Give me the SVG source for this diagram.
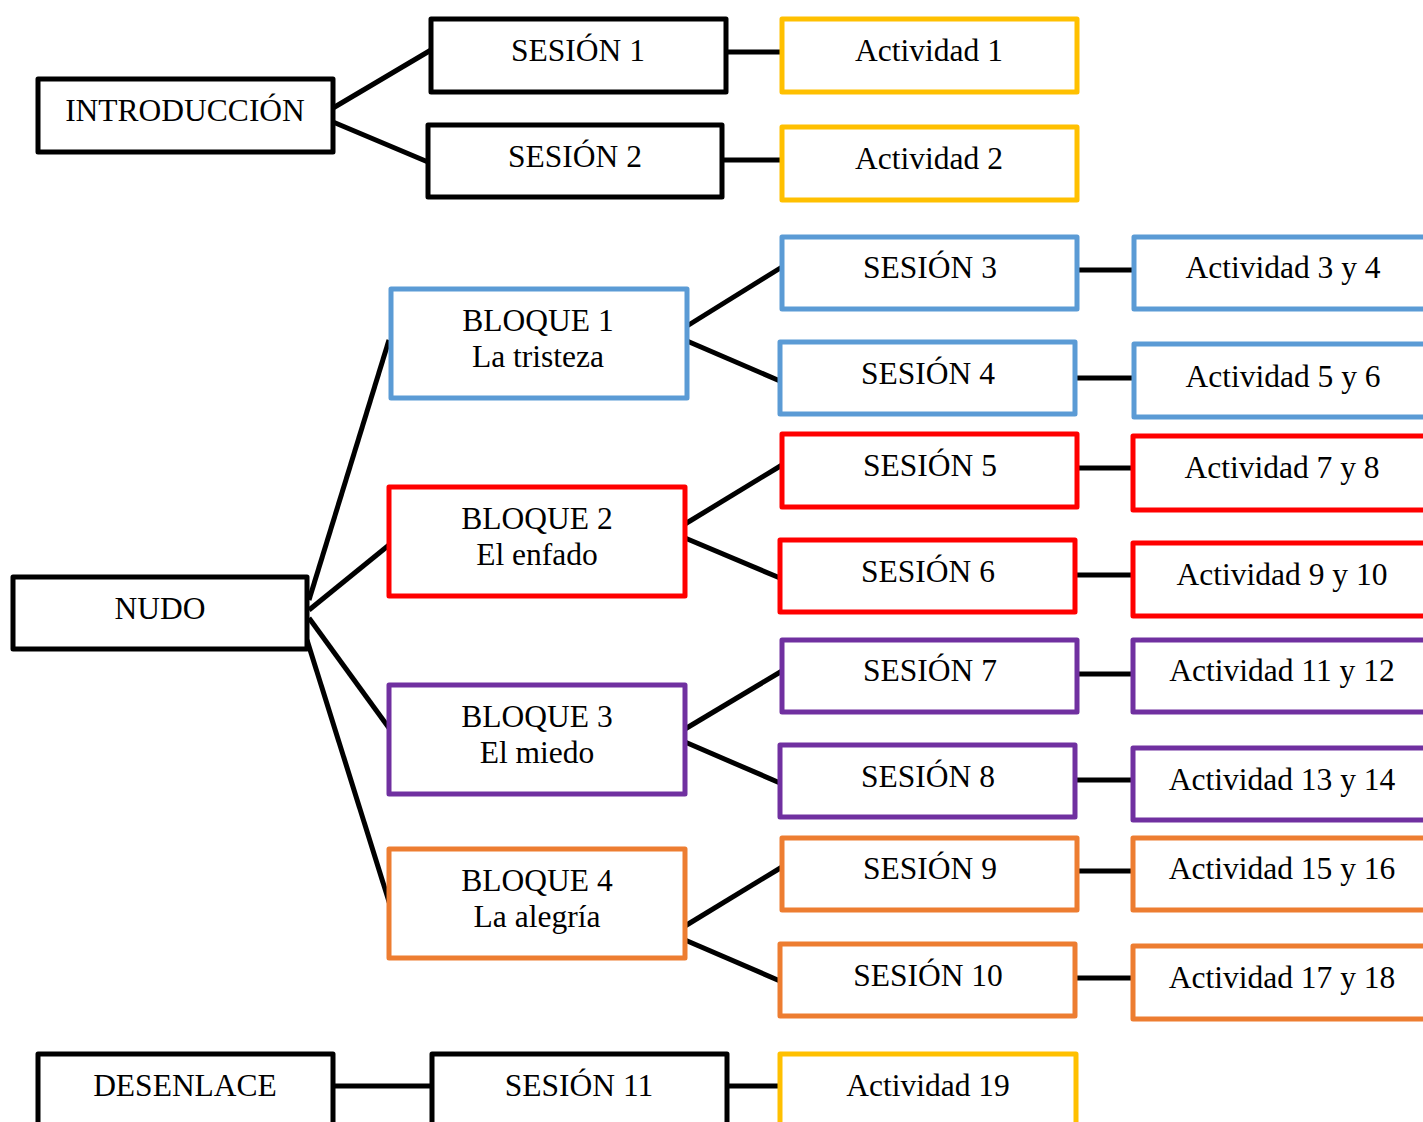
<svg xmlns="http://www.w3.org/2000/svg" width="1423" height="1122" viewBox="0 0 1423 1122">
<style>
rect{fill:#fff;stroke-width:5;stroke-linejoin:round}
.k{stroke:#000}.y{stroke:#FFC000}.b{stroke:#5B9BD5}.r{stroke:#FF0000}.p{stroke:#7030A0}.o{stroke:#ED7D31}
text{font-family:"Liberation Serif","Times New Roman",serif;font-size:31.5px;fill:#000;text-anchor:middle}
#connectors line{stroke:#000;stroke-width:5}
</style>
<rect x="0" y="0" width="1423" height="1122" style="fill:#fff;stroke:none"/>
<g id="connectors">
<line x1="333" y1="108" x2="431" y2="50"/>
<line x1="333" y1="122" x2="428" y2="162"/>
<line x1="726" y1="52" x2="782" y2="52"/>
<line x1="722" y1="160" x2="782" y2="160"/>
<line x1="309" y1="600" x2="389" y2="340"/>
<line x1="309" y1="610" x2="389" y2="545"/>
<line x1="309" y1="618" x2="389" y2="728"/>
<line x1="307" y1="640" x2="391" y2="908"/>
<line x1="687" y1="326" x2="782" y2="267"/>
<line x1="687" y1="341" x2="780" y2="381"/>
<line x1="1077" y1="270" x2="1134" y2="270"/>
<line x1="1075" y1="378" x2="1134" y2="378"/>
<line x1="685" y1="524" x2="782" y2="465"/>
<line x1="685" y1="538" x2="780" y2="578"/>
<line x1="1077" y1="468" x2="1133" y2="468"/>
<line x1="1075" y1="575" x2="1133" y2="575"/>
<line x1="685" y1="729" x2="782" y2="671"/>
<line x1="685" y1="742" x2="780" y2="783"/>
<line x1="1077" y1="674" x2="1133" y2="674"/>
<line x1="1075" y1="780" x2="1133" y2="780"/>
<line x1="685" y1="926" x2="782" y2="867"/>
<line x1="685" y1="940" x2="780" y2="981"/>
<line x1="1077" y1="871" x2="1133" y2="871"/>
<line x1="1075" y1="978" x2="1133" y2="978"/>
<line x1="333" y1="1086" x2="432" y2="1086"/>
<line x1="724" y1="1086" x2="780" y2="1086"/>
</g>
<g id="introduccion"><rect class="k" x="38" y="79" width="295" height="73"/><text x="185" y="121">INTRODUCCIÓN</text></g>
<g id="sesion1"><rect class="k" x="431" y="19" width="295" height="73"/><text x="578" y="61">SESIÓN 1</text></g>
<g id="sesion2"><rect class="k" x="428" y="125" width="294" height="72"/><text x="575" y="167">SESIÓN 2</text></g>
<g id="actividad1"><rect class="y" x="782" y="19" width="295" height="73"/><text x="929" y="61">Actividad 1</text></g>
<g id="actividad2"><rect class="y" x="782" y="127" width="295" height="73"/><text x="929" y="169">Actividad 2</text></g>

<g id="nudo"><rect class="k" x="13" y="577" width="294" height="72"/><text x="160" y="619">NUDO</text></g>

<g id="bloque1"><rect class="b" x="391" y="289" width="296" height="109"/><text x="538" y="331">BLOQUE 1</text><text x="538" y="367">La tristeza</text></g>
<g id="sesion3"><rect class="b" x="782" y="237" width="295" height="72"/><text x="930" y="278">SESIÓN 3</text></g>
<g id="sesion4"><rect class="b" x="780" y="342" width="295" height="72"/><text x="928" y="384">SESIÓN 4</text></g>
<g id="actividad3y4"><rect class="b" x="1134" y="237" width="310" height="72"/><text x="1283" y="278">Actividad 3 y 4</text></g>
<g id="actividad5y6"><rect class="b" x="1134" y="344" width="310" height="73"/><text x="1283" y="387">Actividad 5 y 6</text></g>

<g id="bloque2"><rect class="r" x="389" y="487" width="296" height="109"/><text x="537" y="529">BLOQUE 2</text><text x="537" y="565">El enfado</text></g>
<g id="sesion5"><rect class="r" x="782" y="434" width="295" height="73"/><text x="930" y="476">SESIÓN 5</text></g>
<g id="sesion6"><rect class="r" x="780" y="540" width="295" height="72"/><text x="928" y="582">SESIÓN 6</text></g>
<g id="actividad7y8"><rect class="r" x="1133" y="436" width="310" height="74"/><text x="1282" y="478">Actividad 7 y 8</text></g>
<g id="actividad9y10"><rect class="r" x="1133" y="543" width="310" height="73"/><text x="1282" y="585">Actividad 9 y 10</text></g>

<g id="bloque3"><rect class="p" x="389" y="685" width="296" height="109"/><text x="537" y="727">BLOQUE 3</text><text x="537" y="763">El miedo</text></g>
<g id="sesion7"><rect class="p" x="782" y="640" width="295" height="72"/><text x="930" y="681">SESIÓN 7</text></g>
<g id="sesion8"><rect class="p" x="780" y="745" width="295" height="72"/><text x="928" y="787">SESIÓN 8</text></g>
<g id="actividad11y12"><rect class="p" x="1133" y="640" width="310" height="72"/><text x="1282" y="681">Actividad 11 y 12</text></g>
<g id="actividad13y14"><rect class="p" x="1133" y="748" width="310" height="72"/><text x="1282" y="790">Actividad 13 y 14</text></g>

<g id="bloque4"><rect class="o" x="389" y="849" width="296" height="109"/><text x="537" y="891">BLOQUE 4</text><text x="537" y="927">La alegría</text></g>
<g id="sesion9"><rect class="o" x="782" y="838" width="295" height="72"/><text x="930" y="879">SESIÓN 9</text></g>
<g id="sesion10"><rect class="o" x="780" y="944" width="295" height="72"/><text x="928" y="986">SESIÓN 10</text></g>
<g id="actividad15y16"><rect class="o" x="1133" y="838" width="310" height="72"/><text x="1282" y="879">Actividad 15 y 16</text></g>
<g id="actividad17y18"><rect class="o" x="1133" y="946" width="310" height="73"/><text x="1282" y="988">Actividad 17 y 18</text></g>

<g id="desenlace"><rect class="k" x="38" y="1054" width="295" height="90"/><text x="185" y="1096">DESENLACE</text></g>
<g id="sesion11"><rect class="k" x="432" y="1054" width="295" height="90"/><text x="579" y="1096">SESIÓN 11</text></g>
<g id="actividad19"><rect class="y" x="780" y="1054" width="296" height="90"/><text x="928" y="1096">Actividad 19</text></g>
</svg>
